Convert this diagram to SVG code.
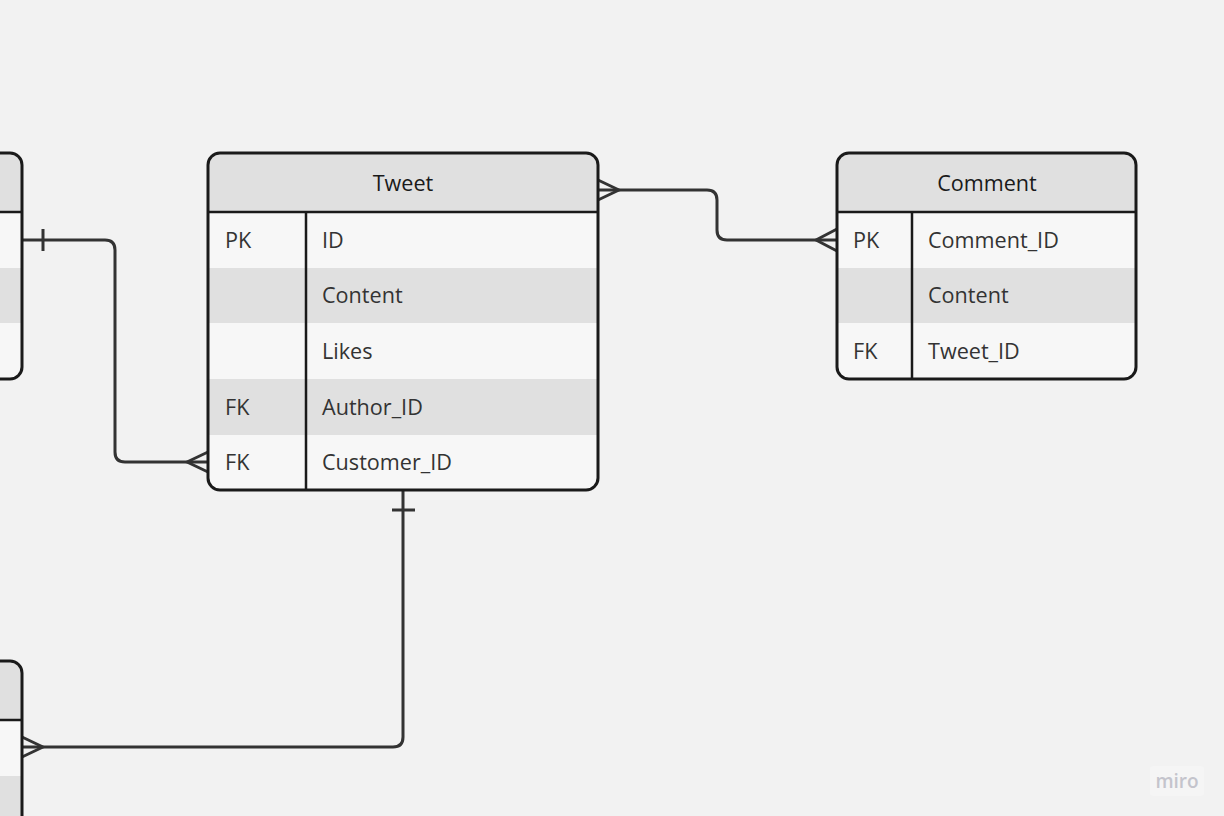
<svg xmlns="http://www.w3.org/2000/svg" width="1224" height="816" viewBox="0 0 1224 816">
<style>
.bg{fill:#f2f2f2}
.hd{fill:#e0e0e0}
.lt{fill:#f7f7f7}
.dk{fill:#e0e0e0}
.ol{fill:none;stroke:#1a1a1a;stroke-width:3}
.ln{fill:none;stroke:#1a1a1a;stroke-width:2.5}
.t{font-family:"Open Sans","Liberation Sans",sans-serif;font-size:21.6px;fill:#333}
.h{font-family:"Open Sans","Liberation Sans",sans-serif;font-size:21.6px;fill:#1a1a1a;text-anchor:middle}
.c{fill:none;stroke:#333;stroke-width:3;stroke-linejoin:round}
.w{font-family:"Open Sans","Liberation Sans",sans-serif;font-size:19px;fill:#c4c4cc;font-weight:600}
</style>
<defs>
<clipPath id="cpT"><rect x="208" y="153" width="390" height="337" rx="12"/></clipPath>
<clipPath id="cpC"><rect x="837" y="153" width="299" height="226" rx="12"/></clipPath>
<clipPath id="cpL"><rect x="-300" y="153" width="322" height="226" rx="12"/></clipPath>
<clipPath id="cpB"><rect x="-300" y="661" width="322" height="300" rx="12"/></clipPath>
</defs>
<rect class="bg" x="0" y="0" width="1224" height="816"/>

<g id="connectors">
<path class="c" d="M22,240 H105 Q115,240 115,250 V452 Q115,462 125,462 H208"/>
<path class="c" d="M43,229 V251"/>
<path class="c" d="M208,452 L187,462 L208,472"/>
<path class="c" d="M598,190 H707 Q717,190 717,200 V230 Q717,240 727,240 H837"/>
<path class="c" d="M598,180 L619,190 L598,200"/>
<path class="c" d="M837,229 L816,240 L837,251"/>
<path class="c" d="M403,490 V737 Q403,747 393,747 H22"/>
<path class="c" d="M392,510 H415"/>
<path class="c" d="M22,737 L43,747 L22,757"/>
</g>

<g id="table-left">
<g clip-path="url(#cpL)">
<rect class="hd" x="-300" y="153" width="322" height="59"/>
<rect class="lt" x="-300" y="212" width="322" height="56"/>
<rect class="dk" x="-300" y="268" width="322" height="55"/>
<rect class="lt" x="-300" y="323" width="322" height="56"/>
</g>
<rect class="ol" x="-300" y="153" width="322" height="226" rx="12"/>
<line class="ln" x1="-300" y1="212" x2="22" y2="212"/>
</g>

<g id="table-bottom-left">
<g clip-path="url(#cpB)">
<rect class="hd" x="-300" y="661" width="322" height="59"/>
<rect class="lt" x="-300" y="720" width="322" height="56"/>
<rect class="dk" x="-300" y="776" width="322" height="55"/>
</g>
<rect class="ol" x="-300" y="661" width="322" height="300" rx="12"/>
<line class="ln" x1="-300" y1="720" x2="22" y2="720"/>
</g>

<g id="table-tweet">
<g clip-path="url(#cpT)">
<rect class="hd" x="208" y="153" width="390" height="59"/>
<rect class="lt" x="208" y="212" width="390" height="56"/>
<rect class="dk" x="208" y="268" width="390" height="55"/>
<rect class="lt" x="208" y="323" width="390" height="56"/>
<rect class="dk" x="208" y="379" width="390" height="56"/>
<rect class="lt" x="208" y="435" width="390" height="55"/>
</g>
<rect class="ol" x="208" y="153" width="390" height="337" rx="12"/>
<line class="ln" x1="208" y1="212" x2="598" y2="212"/>
<line class="ln" x1="306" y1="212" x2="306" y2="490"/>
<text class="h" x="403" y="191">Tweet</text>
<text class="t" x="225" y="248">PK</text>
<text class="t" x="322" y="248">ID</text>
<text class="t" x="322" y="303">Content</text>
<text class="t" x="322" y="359">Likes</text>
<text class="t" x="225" y="415">FK</text>
<text class="t" x="322" y="415">Author_ID</text>
<text class="t" x="225" y="470">FK</text>
<text class="t" x="322" y="470">Customer_ID</text>
</g>

<g id="table-comment">
<g clip-path="url(#cpC)">
<rect class="hd" x="837" y="153" width="299" height="59"/>
<rect class="lt" x="837" y="212" width="299" height="56"/>
<rect class="dk" x="837" y="268" width="299" height="55"/>
<rect class="lt" x="837" y="323" width="299" height="56"/>
</g>
<rect class="ol" x="837" y="153" width="299" height="226" rx="12"/>
<line class="ln" x1="837" y1="212" x2="1136" y2="212"/>
<line class="ln" x1="912" y1="212" x2="912" y2="379"/>
<text class="h" x="987" y="191">Comment</text>
<text class="t" x="853" y="248">PK</text>
<text class="t" x="928" y="248">Comment_ID</text>
<text class="t" x="928" y="303">Content</text>
<text class="t" x="853" y="359">FK</text>
<text class="t" x="928" y="359">Tweet_ID</text>
</g>

<g id="watermark">
<rect x="1150" y="766" width="54" height="30" rx="3" fill="#f5f5f5"/>
<text class="w" x="1177" y="788" text-anchor="middle">miro</text>
</g>
</svg>
